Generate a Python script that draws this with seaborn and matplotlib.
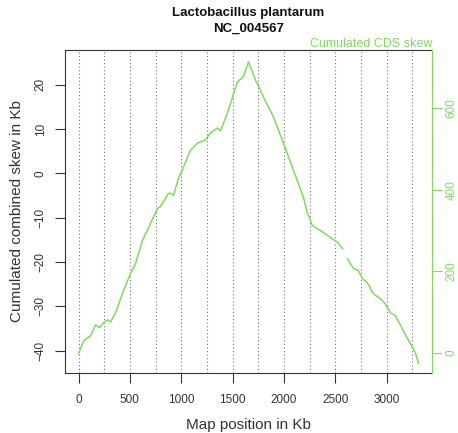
import numpy as np
import pandas as pd
import matplotlib
matplotlib.use("Agg")
import matplotlib.pyplot as plt
import seaborn as sns

# Values
# map position (kb) and cumulated CDS skew (right axis units)
position_kb = [0, 49, 117, 166, 204, 243, 282, 312, 360, 438, 506, 555, 584, 623,
               701, 769, 798, 876, 896, 925, 974, 1022, 1091, 1159, 1237, 1285,
               1353, 1383, 1451, 1548, 1607, 1655, 1723, 1801, 1899, 1996, 2093,
               2191, 2230, 2278, 2356, 2454, 2522, 2571,
               2619, 2678, 2726, 2765, 2814, 2872, 2941, 2989, 3038, 3087, 3165,
               3233, 3282, 3311]
cds_skew = [-2, 30, 42, 69, 62, 74, 81, 76, 98, 153, 194, 219, 244, 276,
            317, 354, 359, 391, 391, 386, 428, 455, 497, 514, 522, 539,
            551, 544, 588, 664, 677, 713, 669, 627, 578, 514, 448,
            381, 342, 312, 300, 283, 271, 256,
            231, 207, 202, 182, 172, 145, 133, 120, 98, 91, 54,
            22, 0, -25]
# the curve has a small break after 2571 kb
segment = [0] * 44 + [1] * 14

grid_positions = list(range(0, 3500, 250))
x_ticks = [0, 500, 1000, 1500, 2000, 2500, 3000]
left_ticks = [-40, -30, -20, -10, 0, 10, 20]
right_ticks = [0, 200, 400, 600]

df = pd.DataFrame({"pos": position_kb, "skew": cds_skew, "seg": segment})

green = "#7ddc5a"
dark = "#333333"

plt.rcParams["font.family"] = ["Liberation Sans", "DejaVu Sans"]

fig = plt.figure(figsize=(4.58, 4.33), dpi=100)
ax = fig.add_axes([0.1419, 0.1386, 0.8013, 0.7459])
ax2 = ax.twinx()

for g in grid_positions:
    ax.axvline(g, color="#777777", linestyle=(0, (1, 2.2)), linewidth=0.8, zorder=0)

sns.lineplot(data=df, x="pos", y="skew", units="seg", estimator=None,
             color=green, linewidth=1.1, ax=ax2, legend=False)

ax.set_xlim(-132, 3443)
ax.set_ylim(-45.0, 27.8)
ax2.set_ylim(-49, 742)

ax.set_xticks(x_ticks)
ax.set_yticks(left_ticks)
ax2.set_yticks(right_ticks)

ax.tick_params(axis="x", length=7, width=0.8, pad=8, labelsize=8.5, labelcolor=dark, color=dark)
ax.tick_params(axis="y", length=7, width=0.8, pad=6, labelsize=8.5, labelcolor=dark,
               color=dark, labelrotation=90)
for lab in ax.get_yticklabels():
    lab.set_va("center")
ax2.tick_params(axis="y", length=7, width=0.8, pad=3, labelsize=8.5, labelcolor=green,
                color=green, labelrotation=90)
for lab in ax2.get_yticklabels():
    lab.set_va("center")

for side in ["left", "top", "bottom"]:
    ax.spines[side].set_color(dark)
    ax2.spines[side].set_visible(False)
ax.spines["right"].set_visible(False)
ax2.spines["right"].set_color(green)

ax2.set_xlabel("")
ax2.set_ylabel("")
ax.set_xlabel("Map position in Kb", fontsize=11, color=dark)
ax.xaxis.set_label_coords(0.5, -0.161)
ax.xaxis.label.set_va("center")
ax.set_ylabel("Cumulated combined skew in Kb", fontsize=11, color=dark)
ax.yaxis.set_label_coords(-0.131, 0.5)
ax.yaxis.label.set_va("center")

ax.text(0.5, 1.0898, "Lactobacillus plantarum\nNC_004567", transform=ax.transAxes,
        ha="center", va="center", fontsize=9.5, fontweight="bold", color="#111111",
        linespacing=1.5)
ax.text(1.0, 1.0186, "Cumulated CDS skew", transform=ax.transAxes,
        ha="right", va="center", fontsize=9, color=green)

fig.savefig("out.png", dpi=100)
